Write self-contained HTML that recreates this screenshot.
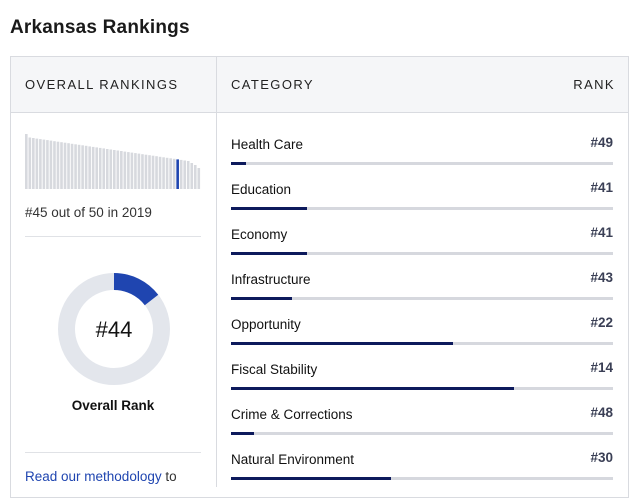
<!DOCTYPE html>
<html><head><meta charset="utf-8"><style>
body{margin:0;width:640px;height:484px;background:#fff;font-family:"Liberation Sans",sans-serif;overflow:hidden;position:relative;color:#111}
.a{position:absolute}
h1{position:absolute;left:10px;top:17px;margin:0;font-size:19px;font-weight:bold;color:#1a1a1a;letter-spacing:0.2px}
.hdr{font-size:13px;letter-spacing:1.4px;color:#222}
.lab{font-size:13.5px;color:#111}
.rk{font-size:13.5px;color:#3a3f55;font-weight:bold;right:27px}
.trk{left:231px;width:382px;height:3px;background:#d6d8de}
.fill{position:absolute;left:0;top:0;height:3px;background:#0d1a5c}
</style></head><body>
<h1>Arkansas Rankings</h1>
<div class="a" style="left:10px;top:56px;width:617px;height:440px;border:1px solid #d9dbe0"></div>
<div class="a" style="left:11px;top:57px;width:617px;height:55px;background:#f5f6f8;border-bottom:1px solid #d9dbe0"></div>
<div class="a" style="left:216px;top:57px;width:1px;height:430px;background:#d9dbe0"></div>
<div class="a hdr" style="left:25px;top:77px">OVERALL RANKINGS</div>
<div class="a hdr" style="left:231px;top:77px">CATEGORY</div>
<div class="a hdr" style="right:25px;top:77px">RANK</div>
<svg class="a" style="left:0;top:0" width="216" height="484">
<g fill="#d7d9de">
<rect x="25" y="134" width="2.6" height="55"/>
<rect x="28.52" y="137.5" width="2.6" height="51.5"/>
<rect x="32.04" y="138" width="2.6" height="51"/>
<rect x="35.56" y="138.6" width="2.6" height="50.4"/>
<rect x="39.08" y="139.1" width="2.6" height="49.9"/>
<rect x="42.6" y="139.6" width="2.6" height="49.4"/>
<rect x="46.12" y="140.1" width="2.6" height="48.9"/>
<rect x="49.64" y="140.6" width="2.6" height="48.4"/>
<rect x="53.16" y="141.2" width="2.6" height="47.8"/>
<rect x="56.68" y="141.7" width="2.6" height="47.3"/>
<rect x="60.2" y="142.2" width="2.6" height="46.8"/>
<rect x="63.72" y="142.7" width="2.6" height="46.3"/>
<rect x="67.24" y="143.2" width="2.6" height="45.8"/>
<rect x="70.76" y="143.8" width="2.6" height="45.2"/>
<rect x="74.28" y="144.3" width="2.6" height="44.7"/>
<rect x="77.8" y="144.8" width="2.6" height="44.2"/>
<rect x="81.32" y="145.3" width="2.6" height="43.7"/>
<rect x="84.84" y="145.8" width="2.6" height="43.2"/>
<rect x="88.36" y="146.4" width="2.6" height="42.6"/>
<rect x="91.88" y="146.9" width="2.6" height="42.1"/>
<rect x="95.4" y="147.4" width="2.6" height="41.6"/>
<rect x="98.92" y="147.9" width="2.6" height="41.1"/>
<rect x="102.44" y="148.4" width="2.6" height="40.6"/>
<rect x="105.96" y="149" width="2.6" height="40"/>
<rect x="109.48" y="149.5" width="2.6" height="39.5"/>
<rect x="113" y="150" width="2.6" height="39"/>
<rect x="116.52" y="150.5" width="2.6" height="38.5"/>
<rect x="120.04" y="151" width="2.6" height="38"/>
<rect x="123.56" y="151.6" width="2.6" height="37.4"/>
<rect x="127.08" y="152.1" width="2.6" height="36.9"/>
<rect x="130.6" y="152.6" width="2.6" height="36.4"/>
<rect x="134.12" y="153.1" width="2.6" height="35.9"/>
<rect x="137.64" y="153.6" width="2.6" height="35.4"/>
<rect x="141.16" y="154.2" width="2.6" height="34.8"/>
<rect x="144.68" y="154.7" width="2.6" height="34.3"/>
<rect x="148.2" y="155.2" width="2.6" height="33.8"/>
<rect x="151.72" y="155.7" width="2.6" height="33.3"/>
<rect x="155.24" y="156.2" width="2.6" height="32.8"/>
<rect x="158.76" y="156.8" width="2.6" height="32.2"/>
<rect x="162.28" y="157.3" width="2.6" height="31.7"/>
<rect x="165.8" y="157.8" width="2.6" height="31.2"/>
<rect x="169.32" y="158.3" width="2.6" height="30.7"/>
<rect x="172.84" y="158.8" width="2.6" height="30.2"/>
<rect x="176.36" y="159.4" width="2.6" height="29.6" fill="#1f45b0"/>
<rect x="179.88" y="159.9" width="2.6" height="29.1"/>
<rect x="183.4" y="160.5" width="2.6" height="28.5"/>
<rect x="186.92" y="161" width="2.6" height="28"/>
<rect x="190.44" y="163" width="2.6" height="26"/>
<rect x="193.96" y="165" width="2.6" height="24"/>
<rect x="197.48" y="168" width="2.6" height="21"/>
</g>
<circle cx="114" cy="329" r="47.5" fill="none" stroke="#e3e6ec" stroke-width="17"/>
<path d="M114 281.5 A47.5 47.5 0 0 1 151.5 300" fill="none" stroke="#1f45b0" stroke-width="17"/>
<text x="114" y="337" text-anchor="middle" font-family="Liberation Sans" font-size="22" fill="#111">#44</text>
</svg>
<div class="a" style="left:25px;top:205px;font-size:13.5px;color:#333">#45 out of 50 in 2019</div>
<div class="a" style="left:25px;top:236px;width:176px;height:1px;background:#e0e2e6"></div>
<div class="a" style="left:25px;top:398px;width:176px;text-align:center;font-size:13.5px;font-weight:bold">Overall Rank</div>
<div class="a" style="left:25px;top:452px;width:176px;height:1px;background:#e0e2e6"></div>
<div class="a" style="left:25px;top:469px;font-size:13.5px;color:#333"><span style="color:#1f45b0">Read our methodology</span> to</div>

<div class="a lab" style="left:231px;top:137px">Health Care</div><div class="a rk" style="top:135px">#49</div><div class="a trk" style="top:162px"><div class="fill" style="width:15px"></div></div>
<div class="a lab" style="left:231px;top:182px">Education</div><div class="a rk" style="top:180px">#41</div><div class="a trk" style="top:207px"><div class="fill" style="width:76px"></div></div>
<div class="a lab" style="left:231px;top:227px">Economy</div><div class="a rk" style="top:225px">#41</div><div class="a trk" style="top:252px"><div class="fill" style="width:76px"></div></div>
<div class="a lab" style="left:231px;top:272px">Infrastructure</div><div class="a rk" style="top:270px">#43</div><div class="a trk" style="top:297px"><div class="fill" style="width:61px"></div></div>
<div class="a lab" style="left:231px;top:317px">Opportunity</div><div class="a rk" style="top:315px">#22</div><div class="a trk" style="top:342px"><div class="fill" style="width:222px"></div></div>
<div class="a lab" style="left:231px;top:362px">Fiscal Stability</div><div class="a rk" style="top:360px">#14</div><div class="a trk" style="top:387px"><div class="fill" style="width:283px"></div></div>
<div class="a lab" style="left:231px;top:407px">Crime &amp; Corrections</div><div class="a rk" style="top:405px">#48</div><div class="a trk" style="top:432px"><div class="fill" style="width:23px"></div></div>
<div class="a lab" style="left:231px;top:452px">Natural Environment</div><div class="a rk" style="top:450px">#30</div><div class="a trk" style="top:477px"><div class="fill" style="width:160px"></div></div>
</body></html>
